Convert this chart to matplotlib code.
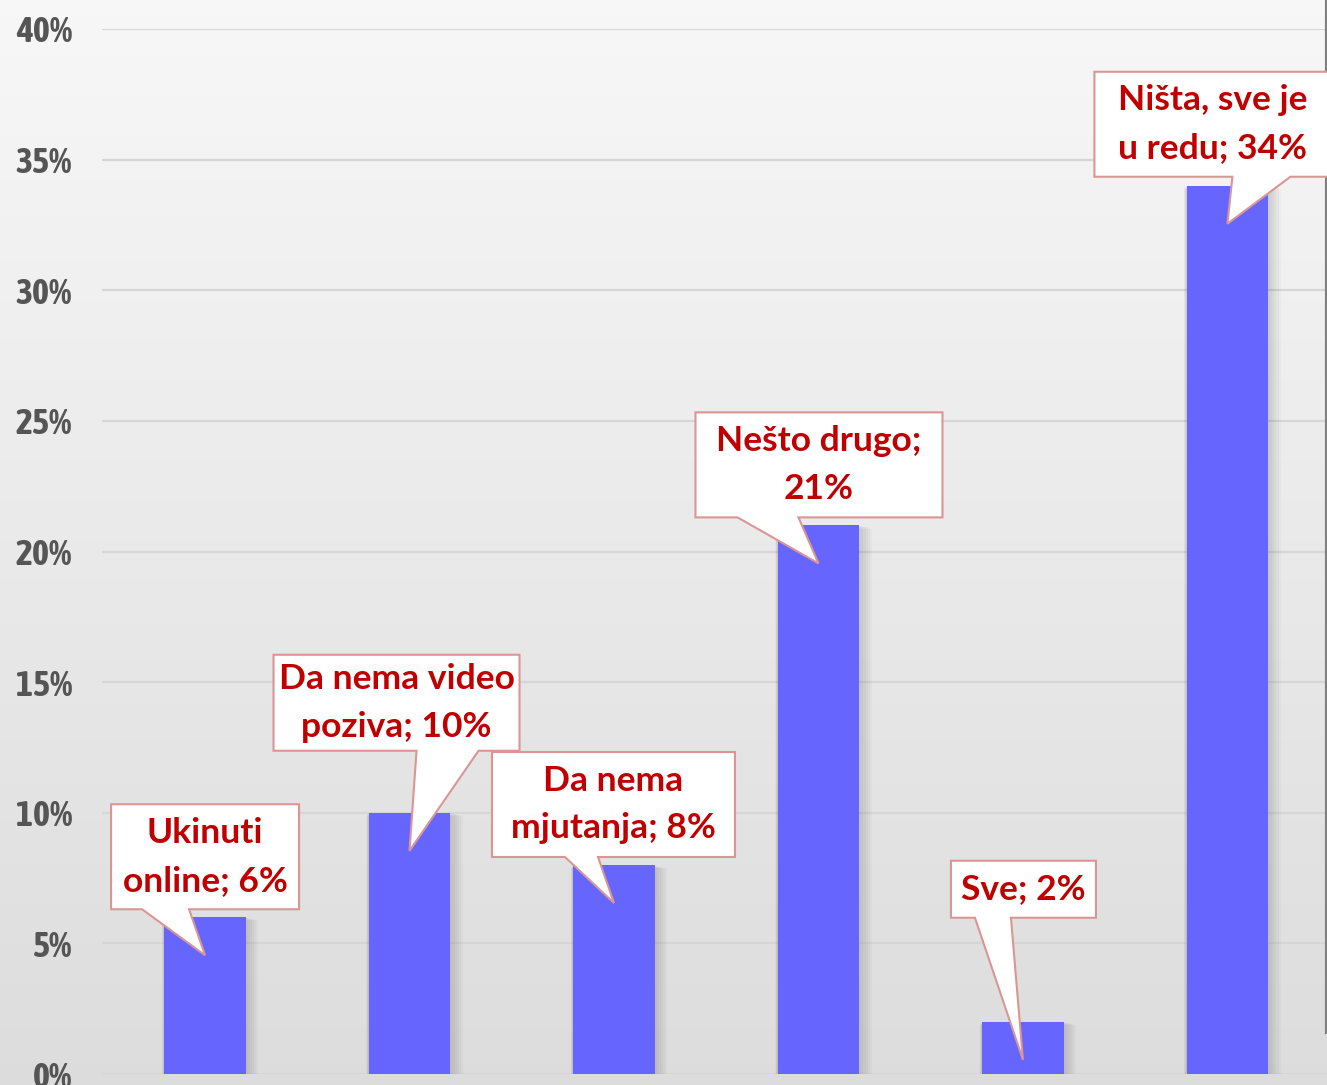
import numpy as np
import matplotlib
matplotlib.use("Agg")
import matplotlib.pyplot as plt
from matplotlib.patches import Polygon
from matplotlib import font_manager

# data
categories = ["Ukinuti online", "Da nema video poziva", "Da nema mjutanja",
              "Nešto drugo", "Sve", "Ništa, sve je u redu"]
values = [6, 10, 8, 21, 2, 34]
callout_text = ["Ukinuti\nonline; 6%", "Da nema video\npoziva; 10%",
                "Da nema\nmjutanja; 8%", "Nešto drugo;\n21%", "Sve; 2%",
                "Ništa, sve je\nu redu; 34%"]
yticks = [0, 5, 10, 15, 20, 25, 30, 35, 40]
ytick_labels = ["0%", "5%", "10%", "15%", "20%", "25%", "30%", "35%", "40%"]

# callout layout, pixels relative to bar top (x right, y down):
# box left, box right, box top, box bottom, tail base left, tail base right
callout_layout = [
    (-94, 94, -113, -8, -63, -16),
    (-136, 110, -158, -62, 7, 69),
    (-122, 121, -113, -8, -49, -16),
    (-123, 124, -113, -8, -81, -20),
    (-72, 73, -161, -104, -48, -12),
    (-133, 103, -114, -9, 5, 63),
]
TIP_DROP = 38

BAR_COLOR = "#6666ff"
TXT_COLOR = "#c00000"
EDGE_COLOR = "#d99694"

# narrow bold font for the tick labels if one is there
tick_font = None
for f in font_manager.fontManager.ttflist:
    n = f.name.lower()
    if ("narrow" in n or "condensed" in n) and f.weight in ("bold", 700):
        tick_font = font_manager.FontProperties(fname=f.fname)
        break
if tick_font is None:
    tick_font = font_manager.FontProperties(family="DejaVu Sans", weight="bold")
    tick_size = 18
else:
    tick_size = 26

fig = plt.figure(figsize=(13.27, 10.85), dpi=100)

# background gradient
bg = fig.add_axes([0, 0, 1, 1], zorder=-10)
grad = np.linspace(0, 1, 256).reshape(-1, 1)
top = np.array([0.97, 0.97, 0.97])
bot = np.array([0.865, 0.865, 0.865])
img = top + (bot - top) * grad[..., None]
img = np.repeat(img, 2, axis=1)
bg.imshow(img, aspect="auto", extent=[0, 1, 0, 1], origin="upper")
bg.axis("off")

ax = fig.add_axes([102 / 1327, 11 / 1085, 1 - 102 / 1327, 1045 / 1085])
ax.patch.set_alpha(0)
x = np.arange(len(values))
width = 0.4

ax.set_xlim(-0.504, 5.487)
ax.set_ylim(0, 40)
ax.set_yticks(yticks)
ax.set_yticklabels(ytick_labels)
ax.set_xticks([])
for s in ax.spines.values():
    s.set_visible(False)
ax.tick_params(axis="y", length=0, pad=21.6)
for lab in ax.get_yticklabels():
    lab.set_fontproperties(tick_font)
    lab.set_fontsize(tick_size)
    lab.set_color("#555555")
ax.grid(axis="y", color="#d6d6d6", lw=1.6, zorder=0)
ax.set_axisbelow(True)

# soft shadow behind bars
for k in range(1, 7):
    ax.bar(x + 0.004 * k, values, width + 0.012 * k, bottom=-0.02 * k,
           color="#404040", alpha=0.035, lw=0, zorder=1)
ax.bar(x, values, width, color=BAR_COLOR, lw=0, zorder=2)

# right edge line
ax.plot([1, 1], [0.04, 1.03], transform=ax.transAxes, color="#808080",
        lw=3, clip_on=False, zorder=3)

# callouts
inv = ax.transData.inverted()
for i, v in enumerate(values):
    px, py = ax.transData.transform((x[i], v))
    bl, br, bt, bb, tl, tr = callout_layout[i]
    pts_px = [
        (px + bl, py - bt), (px + br, py - bt), (px + br, py - bb),
        (px + tr, py - bb), (px, py - TIP_DROP), (px + tl, py - bb),
        (px + bl, py - bb),
    ]
    pts = inv.transform(pts_px)
    ax.add_patch(Polygon(pts, closed=True, facecolor="white",
                         edgecolor=EDGE_COLOR, lw=1.5, zorder=5, clip_on=False))
    cx, cy = inv.transform((px + (bl + br) / 2, py - (bt + bb) / 2))
    ax.text(cx, cy, callout_text[i], ha="center", va="center",
            color=TXT_COLOR, fontsize=25.5, fontweight="bold",
            family=["Lato", "DejaVu Sans"], linespacing=1.6, zorder=6,
            clip_on=False)

fig.savefig("out.png", dpi=100)
